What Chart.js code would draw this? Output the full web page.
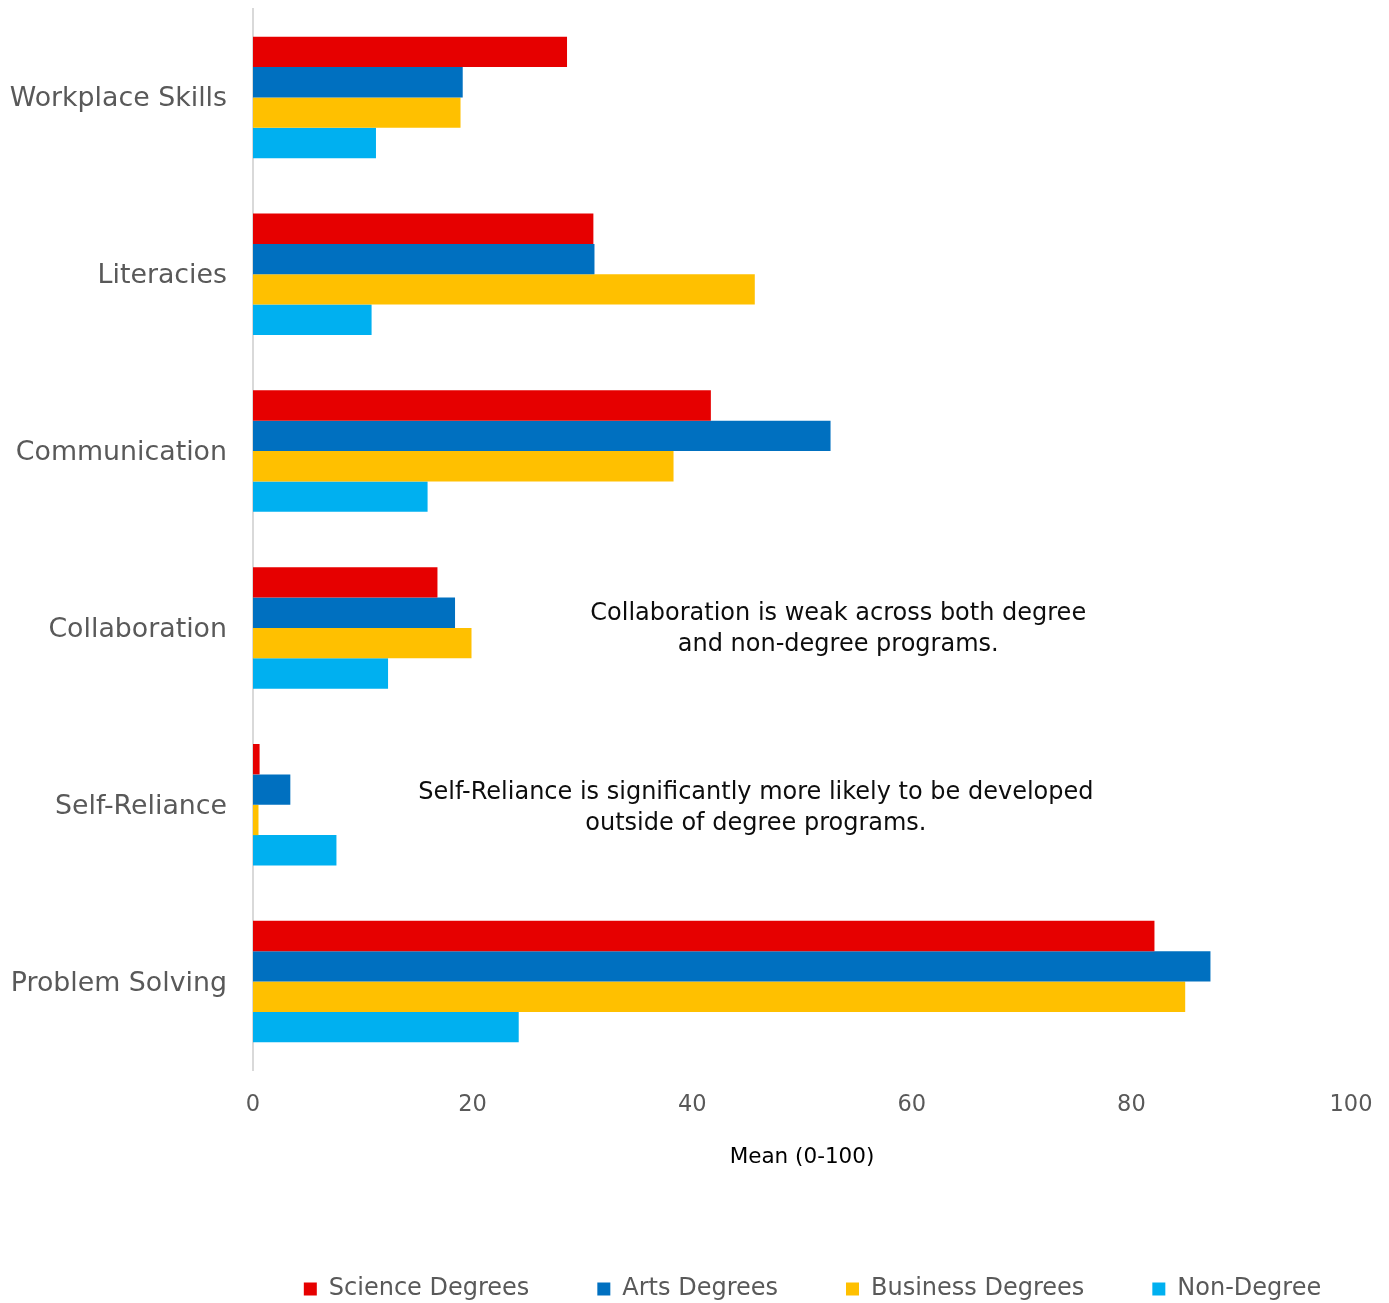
<!DOCTYPE html>
<html>
<head>
<meta charset="utf-8">
<title>Skills developed by program type</title>
<script src="https://cdn.jsdelivr.net/npm/chart.js@4.4.1/dist/chart.umd.min.js"></script>
<style>
  html, body { margin: 0; padding: 0; background: #ffffff; }
  #wrap { width: 1389px; height: 1303px; }
</style>
</head>
<body>
<div id="wrap"><canvas id="chart" width="1389" height="1303"></canvas></div>
<script>
// Skill categories, top to bottom
const categories = ['Workplace Skills', 'Literacies', 'Communication', 'Collaboration', 'Self-Reliance', 'Problem Solving'];

// Mean score (0-100) per program type
const scienceDegrees  = [28.6, 31.0, 41.7, 16.8, 0.6, 82.1];
const artsDegrees     = [19.1, 31.1, 52.6, 18.4, 3.4, 87.2];
const businessDegrees = [18.9, 45.7, 38.3, 19.9, 0.5, 84.9];
const nonDegree       = [11.2, 10.8, 15.9, 12.3, 7.6, 24.2];

const seriesNames = ['Science Degrees', 'Arts Degrees', 'Business Degrees', 'Non-Degree'];
const seriesColors = ['#E60000', '#0070C0', '#FFC000', '#00B0F0'];

// Value axis
const xMin = 0;
const xMax = 100;
const xStep = 20;
const xTitle = 'Mean (0-100)';

// Callout notes: lines of text, the category row they sit on, and the value they are centred on
const noteLines = [
  ['Collaboration is weak across both degree', 'and non-degree programs.'],
  ['Self-Reliance is significantly more likely to be developed', 'outside of degree programs.']
];
const noteRows = [3, 4];
const noteCenters = [53.3, 45.8];

const FONT = "'DejaVu Sans', Verdana, sans-serif";
const GREY = '#595959';

const seriesValues = [scienceDegrees, artsDegrees, businessDegrees, nonDegree];

// Draws the callout notes inside the plot
const notesPlugin = {
  id: 'notes',
  afterDatasetsDraw(chart) {
    const { ctx } = chart;
    const xs = chart.scales.x;
    const ys = chart.scales.y;
    const nudge = [1, 4];
    ctx.save();
    ctx.font = '24px ' + FONT;
    ctx.fillStyle = '#0d0d0d';
    ctx.textAlign = 'center';
    ctx.textBaseline = 'middle';
    const lh = 31;
    noteLines.forEach((lines, i) => {
      const cx = xs.getPixelForValue(noteCenters[i]);
      const cy = ys.getPixelForValue(noteRows[i]) + nudge[i];
      const top = cy - (lines.length - 1) * lh / 2;
      lines.forEach((t, j) => ctx.fillText(t, cx, top + j * lh));
    });
    ctx.restore();
  }
};

// Moves the legend row so it sits under the plot area
const legendPlacer = {
  id: 'legendPlacer',
  afterLayout(chart) {
    const lg = chart.legend;
    if (!lg) return;
    const dx = 137, dy = 8;
    lg.left += dx; lg.right += dx;
    lg.top += dy; lg.bottom += dy;
  }
};

// Keeps tick-label overhang from pushing the plot area inwards
function noScalePadding(scale) {
  scale.paddingTop = 0;
  scale.paddingBottom = 0;
  scale.paddingLeft = 0;
  scale.paddingRight = 0;
}

new Chart(document.getElementById('chart'), {
  type: 'bar',
  data: {
    labels: categories,
    datasets: seriesNames.map((name, i) => ({
      label: name,
      data: seriesValues[i],
      backgroundColor: seriesColors[i],
      borderWidth: 0,
      barPercentage: 1.0,
      categoryPercentage: 0.687
    }))
  },
  options: {
    indexAxis: 'y',
    responsive: false,
    animation: false,
    devicePixelRatio: 1,
    layout: { padding: { top: 9, right: 38, bottom: 0, left: 0 } },
    scales: {
      x: {
        min: xMin,
        max: xMax,
        ticks: {
          stepSize: xStep,
          color: GREY,
          font: { family: FONT, size: 22.5 },
          padding: 22
        },
        grid: { display: false, drawTicks: false, tickLength: 0 },
        border: { display: false },
        title: {
          display: true,
          text: xTitle,
          color: '#000000',
          font: { family: FONT, size: 21.5 },
          padding: { top: 0, bottom: 31 }
        },
        afterFit(scale) { scale.height = 131; noScalePadding(scale); }
      },
      y: {
        ticks: {
          color: GREY,
          font: { family: FONT, size: 26.8 },
          padding: 26,
          labelOffset: 2
        },
        grid: { display: false, drawTicks: false, tickLength: 0 },
        border: { display: true, color: '#D9D9D9', width: 2 },
        afterFit(scale) { scale.width = 253; noScalePadding(scale); }
      }
    },
    plugins: {
      legend: {
        position: 'bottom',
        labels: {
          boxWidth: 13,
          boxHeight: 13,
          padding: 68,
          color: GREY,
          font: { family: FONT, size: 24 }
        }
      },
      tooltip: { enabled: false }
    }
  },
  plugins: [notesPlugin, legendPlacer]
});
</script>
</body>
</html>
